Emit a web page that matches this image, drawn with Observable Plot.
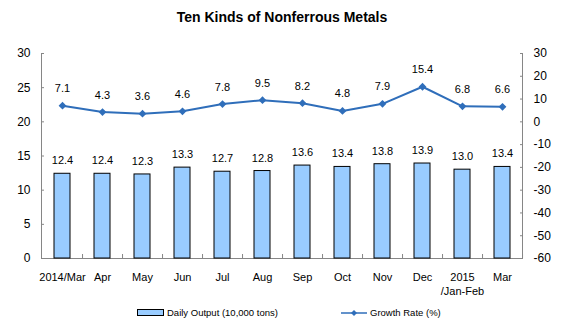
<!DOCTYPE html>
<html>
<head>
<meta charset="utf-8">
<script src="https://cdn.jsdelivr.net/npm/d3@7"></script>
<script src="https://cdn.jsdelivr.net/npm/@observablehq/plot@0.6"></script>
<style>
  body { margin: 0; background: #fff; font-family: "Liberation Sans", Arial, sans-serif; }
  #wrap { width: 564px; height: 328px; position: relative; overflow: hidden; }
  #title { height: 34px; line-height: 34px; text-align: center; font-weight: bold; font-size: 14px; color: #000; }
  #legend { position: relative; height: 28px; font-size: 9.5px; color: #000; }
  .item { position: absolute; top: 7px; display: flex; align-items: center; }
  .barsw { width: 25px; height: 5px; background: #99CCFF; border: 1px solid #000; margin-right: 3px; }
  .linesw { width: 26px; height: 10px; margin-right: 3px; }
</style>
</head>
<body>
<div id="wrap">
  <div id="title">Ten Kinds of Nonferrous Metals</div>
  <div id="chart"></div>
  <div id="legend">
    <div class="item" style="left:137px"><div class="barsw"></div><span>Daily Output (10,000 tons)</span></div>
    <div class="item" style="left:341px"><svg class="linesw" viewBox="0 0 26 10"><line x1="0" y1="5" x2="26" y2="5" stroke="#2F6EBA" stroke-width="1.5"/><path d="M13,2 L16,5 L13,8 L10,5 Z" fill="#2F6EBA"/></svg><span>Growth Rate (%)</span></div>
  </div>
</div>
<script>
const months = ["2014/Mar","Apr","May","Jun","Jul","Aug","Sep","Oct","Nov","Dec","2015\n/Jan-Feb","Mar"];
const output = [12.4,12.4,12.3,13.3,12.7,12.8,13.6,13.4,13.8,13.9,13.0,13.4];
const growth = [7.1,4.3,3.6,4.6,7.8,9.5,8.2,4.8,7.9,15.4,6.8,6.6];
const leftTicks = [0,5,10,15,20,25,30];
const rightTicks = [-60,-50,-40,-30,-20,-10,0,10,20,30];

const leftDomain = [0, 30];
const rightDomain = [-60, 30];
const toLeft = g => leftDomain[0] + (g - rightDomain[0]) / (rightDomain[1] - rightDomain[0]) * (leftDomain[1] - leftDomain[0]);
const toRight = v => rightDomain[0] + (v - leftDomain[0]) / (leftDomain[1] - leftDomain[0]) * (rightDomain[1] - rightDomain[0]);

const data = months.map((m, i) => ({month: m, output: output[i], growth: growth[i], g: toLeft(growth[i])}));

const axisColor = "#868686";
const lineColor = "#2F6EBA";

const chart = Plot.plot({
  width: 564,
  height: 266,
  marginTop: 19,
  marginBottom: 42,
  marginLeft: 41,
  marginRight: 42,
  style: {fontFamily: "'Liberation Sans', Arial, sans-serif", fontSize: "11px", color: "#000", background: "#fff"},
  x: {type: "band", domain: months, paddingInner: 0.6, paddingOuter: 0.3, label: null},
  y: {domain: leftDomain, label: null},
  marks: [
    Plot.frame({anchor: "left", stroke: axisColor}),
    Plot.frame({anchor: "right", stroke: axisColor}),
    Plot.frame({anchor: "bottom", stroke: axisColor}),
    Plot.axisY({anchor: "left", ticks: leftTicks, tickSize: -3, tickPadding: 14, stroke: axisColor, fontSize: 12, label: null, textAnchor: "end"}),
    Plot.axisY({anchor: "right", ticks: rightTicks.map(toLeft), tickFormat: d => String(Math.round(toRight(d))), tickSize: -3, tickPadding: 14, stroke: axisColor, fontSize: 12, label: null}),
    Plot.axisX({anchor: "bottom", tickSize: 0, tickPadding: 12, fontSize: 11, label: null, lineHeight: 1.3}),
    Plot.axisX({anchor: "bottom", tickSize: -4, text: null, dx: 20.04, stroke: axisColor, label: null}),
    Plot.barY(data, {x: "month", y: "output", fill: "#99CCFF", stroke: "#000", strokeWidth: 1}),
    Plot.text(data, {x: "month", y: "output", text: d => d.output.toFixed(1), dy: -13, fontSize: 11}),
    Plot.line(data, {x: "month", y: "g", stroke: lineColor, strokeWidth: 2}),
    Plot.dot(data, {x: "month", y: "g", symbol: "diamond2", r: 3.5, fill: lineColor, stroke: null}),
    Plot.text(data, {x: "month", y: "g", text: d => d.growth.toFixed(1), dy: -17, fontSize: 11})
  ]
});
document.getElementById("chart").appendChild(chart);
</script>
</body>
</html>
